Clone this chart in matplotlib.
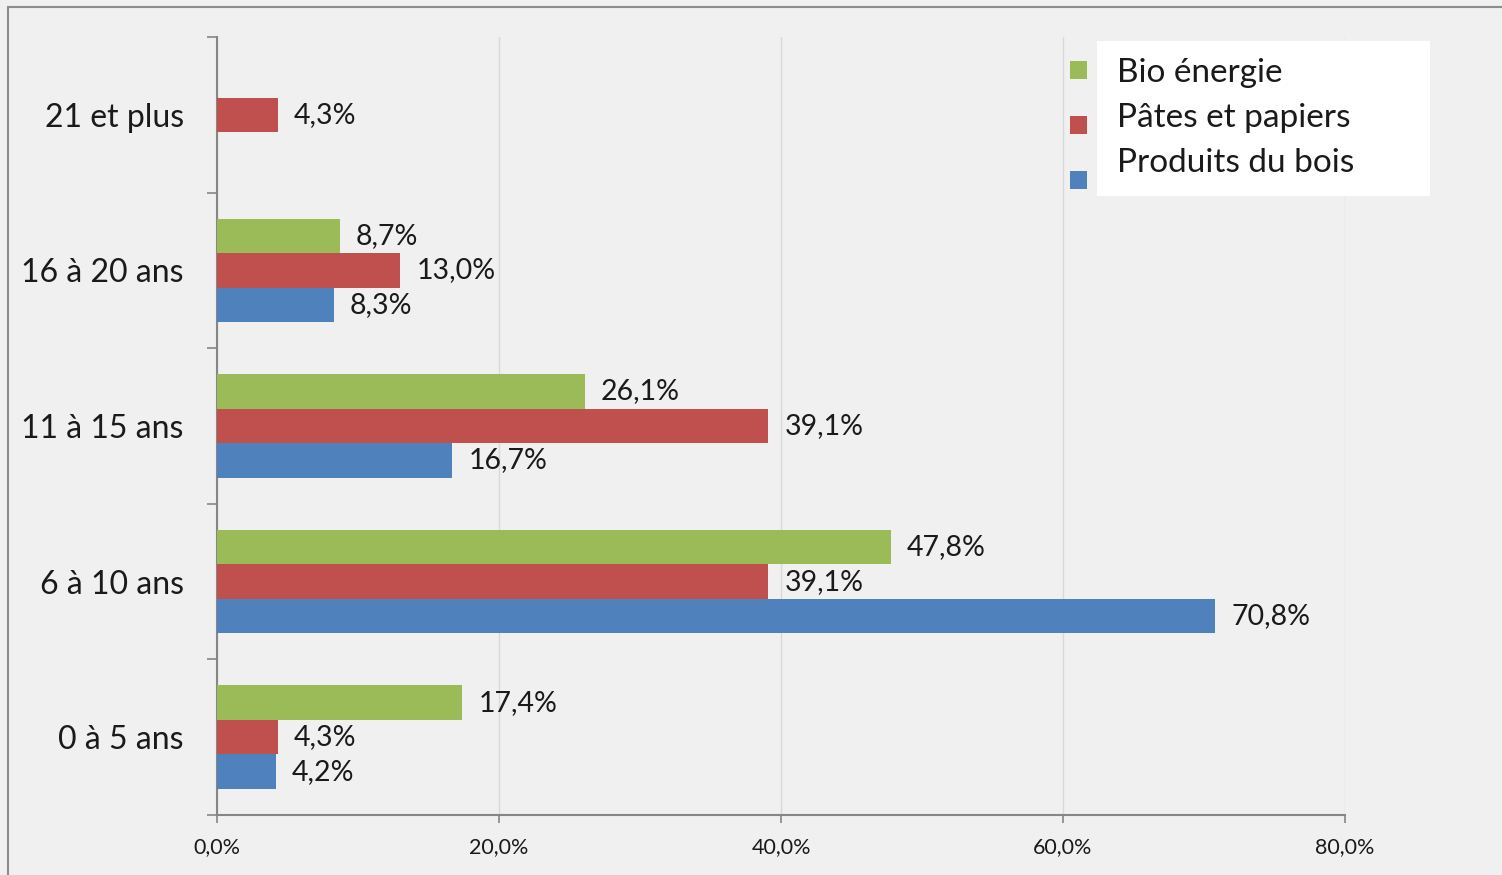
import numpy as np
import matplotlib
matplotlib.use("Agg")
import matplotlib.pyplot as plt
from matplotlib.patches import Rectangle

categories = ["0 à 5 ans", "6 à 10 ans", "11 à 15 ans", "16 à 20 ans", "21 et plus"]
series_names = ["Bio énergie", "Pâtes et papiers", "Produits du bois"]
bio_energie = [17.4, 47.8, 26.1, 8.7, None]
pates_papiers = [4.3, 39.1, 39.1, 13.0, 4.3]
produits_bois = [4.2, 70.8, 16.7, 8.3, None]
x_ticks = [0, 20, 40, 60, 80]
x_tick_labels = ["0,0%", "20,0%", "40,0%", "60,0%", "80,0%"]

colors = ["#9BBB59", "#C0504D", "#4F81BD"]
bg = "#F0F0F0"
FONT = ["Lato", "DejaVu Sans"]
plt.rcParams["font.family"] = FONT

W, H = 1502, 875
fig = plt.figure(figsize=(W / 100, H / 100), dpi=100, facecolor=bg)

# outer border
fig.patches.append(Rectangle((8 / W, -0.01), 1.2, 1 - 7 / H + 0.01, transform=fig.transFigure,
                             fill=False, edgecolor="#8C8C8C", linewidth=1.5))

ax = fig.add_axes([217 / W, 1 - 815 / H, (1345 - 217) / W, (815 - 37) / H])
ax.set_facecolor(bg)

bh = 0.222
ypos = np.arange(len(categories))
offsets = [bh, 0.0, -bh]
all_series = [bio_energie, pates_papiers, produits_bois]
for s, vals in enumerate(all_series):
    for i, v in enumerate(vals):
        if v is None:
            continue
        y = ypos[i] + offsets[s]
        ax.barh(y, v, height=bh, color=colors[s], edgecolor="none", zorder=3)
        ax.annotate(f"{v:.1f}".replace(".", ",") + "%", xy=(v, y), xytext=(11.5, 0),
                    textcoords="offset points", va="center", ha="left",
                    fontsize=20.5, color="#1a1a1a", zorder=4)

ax.set_xlim(0, 80)
ax.set_ylim(-0.5, len(categories) - 0.5)
ax.set_xticks(x_ticks)
ax.set_xticklabels(x_tick_labels, fontsize=15.5, color="#1a1a1a")
ax.xaxis.grid(True, color="#D9D9D9", linewidth=1, zorder=0)
ax.set_axisbelow(True)

ax.set_yticks(np.arange(-0.5, len(categories), 1.0))
ax.set_yticklabels([])
ax.set_yticks(ypos, minor=True)
ax.set_yticklabels(categories, minor=True, fontsize=23, color="#1a1a1a")
ax.tick_params(axis="y", which="major", direction="out", length=7, width=1.2, color="#868686")
ax.tick_params(axis="y", which="minor", length=0, pad=24)
ax.tick_params(axis="x", direction="out", length=6, width=1.2, color="#868686", pad=10)

for sp in ["top", "right"]:
    ax.spines[sp].set_visible(False)
for sp in ["left", "bottom"]:
    ax.spines[sp].set_color("#868686")
    ax.spines[sp].set_linewidth(1.5)

# legend (drawn manually to mimic Excel layout)
fig.patches.append(Rectangle((1097 / W, 1 - 196 / H), (1430 - 1097) / W, (196 - 41) / H,
                             transform=fig.transFigure, facecolor="white", edgecolor="none", zorder=5))
sq_y = [70, 125, 180]
tx_y = [73, 118, 163]
for s, name in enumerate(series_names):
    fig.patches.append(Rectangle((1070 / W, 1 - (sq_y[s] + 8.5) / H), 17 / W, 17 / H,
                                 transform=fig.transFigure, facecolor=colors[s], edgecolor="none", zorder=6))
    fig.text(1117 / W, 1 - tx_y[s] / H, name, fontsize=24, va="center", ha="left",
             color="#1a1a1a", zorder=7)

fig.savefig("out.png", dpi=100, facecolor=bg)
